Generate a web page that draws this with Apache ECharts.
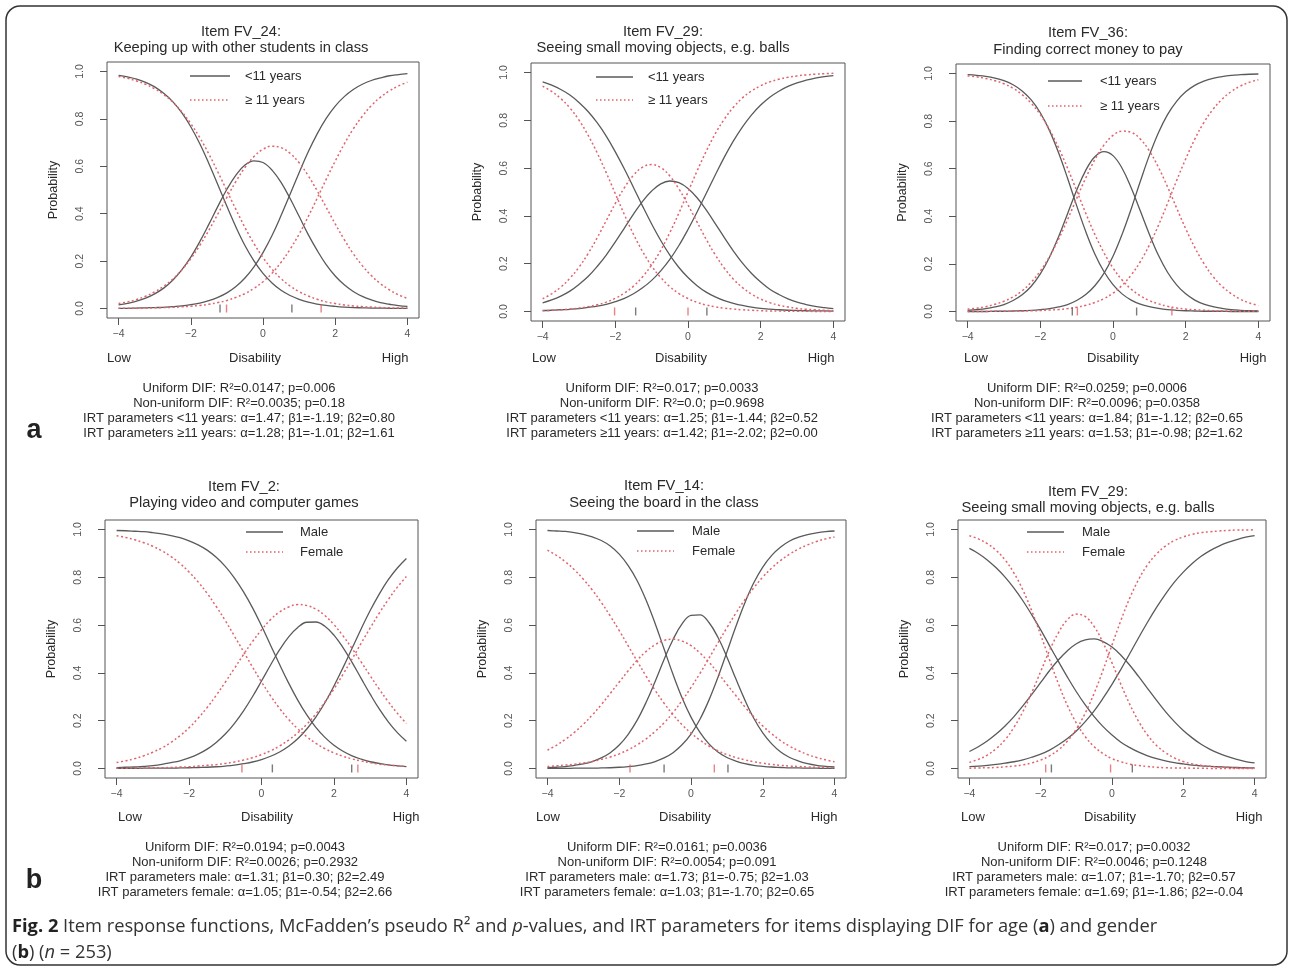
<!DOCTYPE html>
<html><head><meta charset="utf-8">
<script src="https://cdn.jsdelivr.net/npm/echarts@6/dist/echarts.min.js"></script>
<style>html,body{margin:0;padding:0;background:#fff}#c{width:1290px;height:971px}</style>
</head><body><div id="c"></div>
<script>
// ---------------- DATA ----------------
const theta = [-4,-3.75,-3.5,-3.25,-3,-2.75,-2.5,-2.25,-2,-1.75,-1.5,-1.25,-1,-0.75,-0.5,-0.25,0,0.25,0.5,0.75,1,1.25,1.5,1.75,2,2.25,2.5,2.75,3,3.25,3.5,3.75,4];
const xTicks = [-4,-2,0,2,4];
const yTicks = [0,0.2,0.4,0.6,0.8,1.0];

// (a) FV_24
const fv24Young_p0 = [0.984,0.977,0.968,0.954,0.935,0.908,0.873,0.826,0.767,0.695,0.612,0.522,0.431,0.344,0.266,0.201,0.148,0.108,0.077,0.055,0.039,0.027,0.019,0.013,0.009,0.006,0.004,0.003,0.002,0.002,0.001,0.001,0.001];
const fv24Young_p1 = [0.015,0.022,0.031,0.044,0.062,0.086,0.119,0.163,0.217,0.282,0.355,0.431,0.503,0.563,0.605,0.623,0.616,0.584,0.532,0.464,0.389,0.313,0.245,0.185,0.137,0.100,0.072,0.051,0.036,0.025,0.018,0.012,0.009];
const fv24Young_p2 = [0.001,0.001,0.002,0.003,0.004,0.005,0.008,0.011,0.016,0.023,0.033,0.047,0.066,0.093,0.129,0.176,0.236,0.308,0.392,0.482,0.573,0.660,0.737,0.802,0.854,0.894,0.924,0.946,0.962,0.973,0.982,0.987,0.991];
const fv24Old_p0 = [0.979,0.971,0.960,0.946,0.927,0.903,0.871,0.830,0.780,0.721,0.652,0.576,0.497,0.418,0.342,0.274,0.215,0.166,0.126,0.095,0.071,0.053,0.039,0.028,0.021,0.015,0.011,0.008,0.006,0.004,0.003,0.002,0.002];
const fv24Old_p1 = [0.021,0.028,0.038,0.052,0.070,0.094,0.124,0.163,0.210,0.266,0.330,0.399,0.469,0.536,0.595,0.641,0.672,0.685,0.679,0.655,0.615,0.561,0.497,0.427,0.357,0.291,0.231,0.181,0.139,0.105,0.079,0.058,0.043];
const fv24Old_p2 = [0.001,0.001,0.001,0.002,0.003,0.004,0.005,0.007,0.010,0.013,0.018,0.025,0.034,0.047,0.063,0.085,0.113,0.149,0.195,0.250,0.314,0.387,0.465,0.545,0.622,0.694,0.758,0.811,0.856,0.891,0.918,0.939,0.955];
const fv24Young_beta = [-1.19,0.80];
const fv24Old_beta = [-1.01,1.61];

// (a) FV_29
const fv29Young_p0 = [0.961,0.947,0.929,0.906,0.875,0.837,0.790,0.734,0.668,0.596,0.519,0.441,0.366,0.297,0.236,0.184,0.142,0.108,0.081,0.061,0.045,0.034,0.025,0.018,0.013,0.010,0.007,0.005,0.004,0.003,0.002,0.002,0.001];
const fv29Young_p1 = [0.036,0.048,0.064,0.085,0.113,0.146,0.188,0.236,0.291,0.349,0.407,0.461,0.504,0.534,0.546,0.539,0.515,0.476,0.425,0.368,0.309,0.253,0.202,0.159,0.123,0.093,0.071,0.053,0.039,0.029,0.021,0.016,0.012];
const fv29Young_p2 = [0.004,0.005,0.007,0.009,0.012,0.017,0.022,0.030,0.041,0.055,0.074,0.099,0.130,0.170,0.218,0.276,0.343,0.416,0.494,0.571,0.646,0.714,0.773,0.823,0.864,0.897,0.922,0.942,0.957,0.968,0.977,0.983,0.987];
const fv29Old_p0 = [0.943,0.921,0.891,0.852,0.801,0.738,0.664,0.581,0.493,0.405,0.323,0.251,0.190,0.142,0.104,0.075,0.054,0.038,0.027,0.019,0.014,0.010,0.007,0.005,0.003,0.002,0.002,0.001,0.001,0.001,0.000,0.000,0.000];
const fv29Old_p1 = [0.053,0.074,0.102,0.139,0.185,0.242,0.308,0.380,0.452,0.518,0.570,0.604,0.615,0.602,0.567,0.513,0.446,0.374,0.302,0.237,0.181,0.135,0.100,0.072,0.052,0.037,0.026,0.019,0.013,0.009,0.007,0.005,0.003];
const fv29Old_p2 = [0.003,0.005,0.007,0.010,0.014,0.020,0.028,0.039,0.055,0.077,0.106,0.145,0.195,0.256,0.330,0.412,0.500,0.588,0.670,0.744,0.805,0.855,0.894,0.923,0.945,0.961,0.972,0.980,0.986,0.990,0.993,0.995,0.997];
const fv29Young_beta = [-1.44,0.52];
const fv29Old_beta = [-2.02,0.00];

// (a) FV_36
const fv36Young_p0 = [0.995,0.992,0.988,0.981,0.970,0.953,0.927,0.889,0.835,0.761,0.668,0.560,0.445,0.336,0.242,0.168,0.113,0.074,0.048,0.031,0.020,0.013,0.008,0.005,0.003,0.002,0.001,0.001,0.001,0.000,0.000,0.000,0.000];
const fv36Young_p1 = [0.005,0.008,0.012,0.019,0.029,0.046,0.070,0.106,0.158,0.227,0.313,0.411,0.509,0.593,0.650,0.672,0.655,0.602,0.520,0.423,0.325,0.236,0.165,0.112,0.074,0.048,0.031,0.020,0.013,0.008,0.005,0.003,0.002];
const fv36Young_p2 = [0.000,0.000,0.000,0.001,0.001,0.002,0.003,0.005,0.008,0.012,0.019,0.029,0.046,0.071,0.108,0.160,0.232,0.324,0.431,0.546,0.656,0.751,0.827,0.883,0.923,0.950,0.968,0.980,0.987,0.992,0.995,0.997,0.998];
const fv36Old_p0 = [0.990,0.986,0.979,0.970,0.957,0.938,0.911,0.875,0.827,0.765,0.689,0.602,0.508,0.413,0.324,0.247,0.183,0.132,0.094,0.066,0.046,0.032,0.022,0.015,0.010,0.007,0.005,0.003,0.002,0.002,0.001,0.001,0.001];
const fv36Old_p1 = [0.010,0.014,0.020,0.030,0.043,0.061,0.087,0.123,0.170,0.230,0.303,0.386,0.475,0.561,0.638,0.699,0.740,0.758,0.753,0.725,0.675,0.606,0.524,0.435,0.348,0.269,0.202,0.147,0.106,0.075,0.052,0.036,0.025];
const fv36Old_p2 = [0.000,0.000,0.000,0.001,0.001,0.001,0.002,0.003,0.004,0.006,0.008,0.012,0.018,0.026,0.038,0.054,0.077,0.110,0.153,0.209,0.279,0.362,0.454,0.550,0.641,0.724,0.794,0.849,0.892,0.924,0.947,0.963,0.974];
const fv36Young_beta = [-1.12,0.65];
const fv36Old_beta = [-0.98,1.62];

// (b) FV_2
const fv2Male_p0 = [0.996,0.995,0.993,0.991,0.987,0.982,0.975,0.966,0.953,0.936,0.914,0.884,0.846,0.798,0.740,0.673,0.597,0.516,0.435,0.357,0.286,0.224,0.172,0.130,0.097,0.072,0.053,0.039,0.028,0.021,0.015,0.011,0.008];
const fv2Male_p1 = [0.003,0.005,0.006,0.009,0.012,0.017,0.024,0.032,0.044,0.060,0.081,0.109,0.144,0.188,0.240,0.300,0.366,0.433,0.497,0.551,0.590,0.612,0.613,0.595,0.558,0.506,0.444,0.377,0.311,0.249,0.195,0.150,0.114];
const fv2Male_p2 = [0.000,0.000,0.000,0.001,0.001,0.001,0.001,0.002,0.003,0.004,0.005,0.007,0.010,0.014,0.020,0.027,0.037,0.051,0.069,0.093,0.124,0.165,0.215,0.275,0.345,0.422,0.503,0.584,0.661,0.730,0.790,0.839,0.879];
const fv2Female_p0 = [0.974,0.967,0.957,0.945,0.930,0.911,0.887,0.858,0.822,0.781,0.733,0.678,0.619,0.555,0.490,0.425,0.362,0.304,0.251,0.205,0.166,0.133,0.105,0.083,0.065,0.051,0.040,0.031,0.024,0.018,0.014,0.011,0.008];
const fv2Female_p1 = [0.025,0.032,0.041,0.053,0.068,0.086,0.109,0.137,0.170,0.210,0.255,0.306,0.361,0.418,0.476,0.531,0.580,0.623,0.655,0.676,0.686,0.682,0.667,0.640,0.602,0.555,0.502,0.446,0.388,0.332,0.279,0.231,0.188];
const fv2Female_p2 = [0.001,0.001,0.002,0.002,0.003,0.003,0.004,0.006,0.007,0.010,0.013,0.016,0.021,0.027,0.035,0.045,0.058,0.074,0.094,0.119,0.149,0.185,0.228,0.278,0.333,0.394,0.458,0.524,0.588,0.650,0.707,0.759,0.803];
const fv2Male_beta = [0.30,2.49];
const fv2Female_beta = [-0.54,2.66];

// (b) FV_14
const fv14Male_p0 = [0.996,0.994,0.992,0.987,0.980,0.969,0.954,0.931,0.897,0.849,0.786,0.704,0.607,0.500,0.393,0.296,0.215,0.151,0.103,0.069,0.046,0.031,0.020,0.013,0.009,0.006,0.004,0.002,0.002,0.001,0.001,0.000,0.000];
const fv14Male_p1 = [0.003,0.005,0.008,0.013,0.019,0.029,0.044,0.066,0.098,0.143,0.202,0.277,0.364,0.456,0.540,0.605,0.641,0.643,0.611,0.549,0.467,0.375,0.287,0.210,0.149,0.103,0.069,0.046,0.031,0.020,0.013,0.009,0.006];
const fv14Male_p2 = [0.000,0.000,0.000,0.001,0.001,0.001,0.002,0.003,0.005,0.008,0.012,0.019,0.029,0.044,0.066,0.099,0.144,0.206,0.286,0.381,0.487,0.594,0.693,0.777,0.843,0.892,0.927,0.952,0.968,0.979,0.986,0.991,0.994];
const fv14Female_p0 = [0.914,0.892,0.865,0.832,0.792,0.747,0.695,0.638,0.577,0.513,0.449,0.386,0.327,0.273,0.225,0.183,0.148,0.118,0.094,0.074,0.058,0.046,0.036,0.028,0.022,0.017,0.013,0.010,0.008,0.006,0.005,0.004,0.003];
const fv14Female_p1 = [0.077,0.097,0.122,0.151,0.185,0.224,0.267,0.314,0.362,0.409,0.453,0.490,0.518,0.536,0.541,0.533,0.514,0.483,0.445,0.400,0.352,0.305,0.258,0.216,0.178,0.145,0.116,0.093,0.074,0.058,0.046,0.036,0.028];
const fv14Female_p2 = [0.008,0.011,0.014,0.018,0.023,0.029,0.038,0.048,0.061,0.078,0.099,0.124,0.155,0.191,0.234,0.284,0.339,0.398,0.461,0.526,0.589,0.650,0.706,0.756,0.801,0.839,0.871,0.897,0.919,0.936,0.950,0.961,0.969];
const fv14Male_beta = [-0.75,1.03];
const fv14Female_beta = [-1.70,0.65];

// (b) FV_29
const fv29Male_p0 = [0.921,0.900,0.873,0.840,0.801,0.755,0.702,0.643,0.580,0.513,0.447,0.382,0.321,0.266,0.217,0.175,0.140,0.110,0.087,0.068,0.053,0.041,0.032,0.024,0.019,0.014,0.011,0.009,0.007,0.005,0.004,0.003,0.002];
const fv29Male_p1 = [0.071,0.091,0.115,0.144,0.178,0.217,0.262,0.310,0.360,0.410,0.455,0.493,0.522,0.538,0.542,0.531,0.508,0.474,0.432,0.384,0.334,0.285,0.238,0.196,0.159,0.128,0.101,0.080,0.063,0.049,0.038,0.029,0.023];
const fv29Male_p2 = [0.008,0.010,0.013,0.017,0.022,0.028,0.036,0.047,0.060,0.077,0.099,0.125,0.157,0.196,0.241,0.294,0.352,0.415,0.481,0.548,0.613,0.674,0.730,0.780,0.822,0.858,0.888,0.912,0.931,0.946,0.958,0.968,0.975];
const fv29Female_p0 = [0.974,0.961,0.941,0.913,0.873,0.818,0.747,0.659,0.559,0.454,0.353,0.263,0.190,0.133,0.091,0.062,0.041,0.028,0.018,0.012,0.008,0.005,0.003,0.002,0.002,0.001,0.001,0.000,0.000,0.000,0.000,0.000,0.000];
const fv29Female_p1 = [0.025,0.038,0.056,0.083,0.120,0.172,0.238,0.318,0.406,0.494,0.569,0.623,0.646,0.636,0.594,0.526,0.442,0.352,0.268,0.196,0.139,0.096,0.066,0.044,0.029,0.019,0.013,0.009,0.006,0.004,0.002,0.002,0.001];
const fv29Female_p2 = [0.001,0.002,0.003,0.004,0.007,0.010,0.015,0.023,0.035,0.053,0.078,0.115,0.165,0.232,0.315,0.412,0.517,0.620,0.714,0.792,0.853,0.898,0.931,0.954,0.969,0.980,0.987,0.991,0.994,0.996,0.998,0.998,0.999];
const fv29Male_beta = [-1.70,0.57];
const fv29Female_beta = [-1.86,-0.04];

// Texts
const titles = [
  ['Item FV_24:','Keeping up with other students in class'],
  ['Item FV_29:','Seeing small moving objects, e.g. balls'],
  ['Item FV_36:','Finding correct money to pay'],
  ['Item FV_2:','Playing video and computer games'],
  ['Item FV_14:','Seeing the board in the class'],
  ['Item FV_29:','Seeing small moving objects, e.g. balls']
];
const ageLegend = ['<11 years','\u2265 11 years'];
const genderLegend = ['Male','Female'];
const stats = [
  ['Uniform DIF: R\u00b2=0.0147; p=0.006','Non-uniform DIF: R\u00b2=0.0035; p=0.18','IRT parameters <11 years: \u03b1=1.47; \u03b21=-1.19; \u03b22=0.80','IRT parameters \u226511 years: \u03b1=1.28; \u03b21=-1.01; \u03b22=1.61'],
  ['Uniform DIF: R\u00b2=0.017; p=0.0033','Non-uniform DIF: R\u00b2=0.0; p=0.9698','IRT parameters <11 years: \u03b1=1.25; \u03b21=-1.44; \u03b22=0.52','IRT parameters \u226511 years: \u03b1=1.42; \u03b21=-2.02; \u03b22=0.00'],
  ['Uniform DIF: R\u00b2=0.0259; p=0.0006','Non-uniform DIF: R\u00b2=0.0096; p=0.0358','IRT parameters <11 years: \u03b1=1.84; \u03b21=-1.12; \u03b22=0.65','IRT parameters \u226511 years: \u03b1=1.53; \u03b21=-0.98; \u03b22=1.62'],
  ['Uniform DIF: R\u00b2=0.0194; p=0.0043','Non-uniform DIF: R\u00b2=0.0026; p=0.2932','IRT parameters male: \u03b1=1.31; \u03b21=0.30; \u03b22=2.49','IRT parameters female: \u03b1=1.05; \u03b21=-0.54; \u03b22=2.66'],
  ['Uniform DIF: R\u00b2=0.0161; p=0.0036','Non-uniform DIF: R\u00b2=0.0054; p=0.091','IRT parameters male: \u03b1=1.73; \u03b21=-0.75; \u03b22=1.03','IRT parameters female: \u03b1=1.03; \u03b21=-1.70; \u03b22=0.65'],
  ['Uniform DIF: R\u00b2=0.017; p=0.0032','Non-uniform DIF: R\u00b2=0.0046; p=0.1248','IRT parameters male: \u03b1=1.07; \u03b21=-1.70; \u03b22=0.57','IRT parameters female: \u03b1=1.69; \u03b21=-1.86; \u03b22=-0.04']
];
const axisWords = ['Low','Disability','High'];
const yName = 'Probability';
const panelLetters = ['a','b'];

// ---------------- STRUCTURE ----------------
const panels = [
  {g1:[fv24Young_p0,fv24Young_p1,fv24Young_p2], g2:[fv24Old_p0,fv24Old_p1,fv24Old_p2], b1:fv24Young_beta, b2:fv24Old_beta, legend:ageLegend},
  {g1:[fv29Young_p0,fv29Young_p1,fv29Young_p2], g2:[fv29Old_p0,fv29Old_p1,fv29Old_p2], b1:fv29Young_beta, b2:fv29Old_beta, legend:ageLegend},
  {g1:[fv36Young_p0,fv36Young_p1,fv36Young_p2], g2:[fv36Old_p0,fv36Old_p1,fv36Old_p2], b1:fv36Young_beta, b2:fv36Old_beta, legend:ageLegend},
  {g1:[fv2Male_p0,fv2Male_p1,fv2Male_p2], g2:[fv2Female_p0,fv2Female_p1,fv2Female_p2], b1:fv2Male_beta, b2:fv2Female_beta, legend:genderLegend},
  {g1:[fv14Male_p0,fv14Male_p1,fv14Male_p2], g2:[fv14Female_p0,fv14Female_p1,fv14Female_p2], b1:fv14Male_beta, b2:fv14Female_beta, legend:genderLegend},
  {g1:[fv29Male_p0,fv29Male_p1,fv29Male_p2], g2:[fv29Female_p0,fv29Female_p1,fv29Female_p2], b1:fv29Male_beta, b2:fv29Female_beta, legend:genderLegend}
];

// ---------------- LAYOUT ----------------
const L = [
  {grid:{left:107,top:62,width:312,height:256}, tx:241, ty:[32,48], sx:239, sy:388, lg:{x1:190,x2:230,tx:245,y1:76,y2:100}, words:[119,255,395], wy:358},
  {grid:{left:531,top:63,width:314,height:258}, tx:663, ty:[32,48], sx:662, sy:388, lg:{x1:596,x2:633,tx:648,y1:77,y2:100}, words:[544,681,821], wy:358},
  {grid:{left:956,top:64,width:314,height:257}, tx:1088, ty:[33,50], sx:1087, sy:388, lg:{x1:1048,x2:1082,tx:1100,y1:81,y2:106}, words:[976,1113,1253], wy:358},
  {grid:{left:105,top:520,width:313,height:258}, tx:244, ty:[487,503], sx:245, sy:847, lg:{x1:246,x2:283,tx:300,y1:532,y2:552}, words:[130,267,406], wy:817},
  {grid:{left:536,top:520,width:310,height:258}, tx:664, ty:[486,503], sx:667, sy:847, lg:{x1:637,x2:674,tx:692,y1:531,y2:551}, words:[548,685,824], wy:817},
  {grid:{left:958,top:520,width:308,height:258}, tx:1088, ty:[492,508], sx:1094, sy:847, lg:{x1:1027,x2:1064,tx:1082,y1:532,y2:552}, words:[973,1110,1249], wy:817}
];

const GRAY = '#5a5a5a';
const RED = '#e0646c';
const RFONT = '"Liberation Sans", Arial, sans-serif';
const TXT = '#2a2a2a';

const grids=[], xAxes=[], yAxes=[], series=[], graphics=[];

L.forEach((l,i)=>{
  grids.push(Object.assign({show:true, borderColor:'#555', borderWidth:1, containLabel:false}, l.grid));
  xAxes.push({type:'value', gridIndex:i, min:-4.32, max:4.32, position:'bottom',
    axisLine:{show:false, onZero:false}, splitLine:{show:false},
    axisTick:{show:true, length:7, customValues:xTicks, lineStyle:{color:'#555'}},
    axisLabel:{customValues:xTicks, margin:11, fontSize:10.5, color:'#555', fontFamily:RFONT,
      formatter:v=> v<0 ? '\u2212'+(-v) : String(v)}});
  yAxes.push({type:'value', gridIndex:i, min:-0.04, max:1.04, position:'left',
    name:yName, nameLocation:'middle', nameGap:47,
    nameTextStyle:{fontSize:12.5, color:TXT, fontFamily:RFONT},
    axisLine:{show:false, onZero:false}, splitLine:{show:false},
    axisTick:{show:true, length:7, customValues:yTicks, lineStyle:{color:'#555'}},
    axisLabel:{customValues:yTicks, rotate:90, margin:21, fontSize:10.5, color:'#555', fontFamily:RFONT,
      formatter:v=>v.toFixed(1)}});
  const p = panels[i];
  p.g1.forEach(arr=>{
    series.push({type:'line', xAxisIndex:i, yAxisIndex:i, smooth:0.4, showSymbol:false, silent:true,
      data: theta.map((t,j)=>[t,arr[j]]), lineStyle:{color:GRAY, width:1.3}, z:2});
  });
  p.g2.forEach(arr=>{
    series.push({type:'line', xAxisIndex:i, yAxisIndex:i, smooth:0.4, showSymbol:false, silent:true,
      data: theta.map((t,j)=>[t,arr[j]]), lineStyle:{color:RED, width:1.5, type:[2,2.5]}, z:3});
  });
  series.push({type:'scatter', xAxisIndex:i, yAxisIndex:i, silent:true, symbol:'rect', symbolSize:[1.4,8],
    data:p.b1.map(b=>[b,0]), itemStyle:{color:GRAY}, z:4});
  series.push({type:'scatter', xAxisIndex:i, yAxisIndex:i, silent:true, symbol:'rect', symbolSize:[1.4,8],
    data:p.b2.map(b=>[b,0]), itemStyle:{color:RED}, z:4});

  titles[i].forEach((t,k)=>graphics.push({type:'text', silent:true, style:{text:t, x:l.tx, y:l.ty[k],
    font:'14.7px '+RFONT, fill:TXT, textAlign:'center', textVerticalAlign:'middle'}}));
  graphics.push({type:'line', silent:true, shape:{x1:l.lg.x1,y1:l.lg.y1,x2:l.lg.x2,y2:l.lg.y1}, style:{stroke:GRAY, lineWidth:1.3}});
  graphics.push({type:'line', silent:true, shape:{x1:l.lg.x1,y1:l.lg.y2,x2:l.lg.x2,y2:l.lg.y2}, style:{stroke:RED, lineWidth:1.3, lineDash:[1.5,2.5]}});
  p.legend.forEach((t,k)=>graphics.push({type:'text', silent:true, style:{text:t, x:l.lg.tx, y:k? l.lg.y2 : l.lg.y1,
    font:'13px '+RFONT, fill:TXT, textAlign:'left', textVerticalAlign:'middle'}}));
  axisWords.forEach((w,k)=>graphics.push({type:'text', silent:true, style:{text:w, x:l.words[k], y:l.wy,
    font:'13px '+RFONT, fill:TXT, textAlign:'center', textVerticalAlign:'middle'}}));
  stats[i].forEach((s,k)=>graphics.push({type:'text', silent:true, style:{text:s, x:l.sx, y:l.sy+k*15.3,
    font:'13px '+RFONT, fill:TXT, textAlign:'center', textVerticalAlign:'middle'}}));
});

graphics.push({type:'text', silent:true, style:{text:panelLetters[0], x:34, y:431, font:'bold 27px '+RFONT, fill:'#222', textAlign:'center', textVerticalAlign:'middle'}});
graphics.push({type:'text', silent:true, style:{text:panelLetters[1], x:34, y:881, font:'bold 27px '+RFONT, fill:'#222', textAlign:'center', textVerticalAlign:'middle'}});

const CFONT = '"Open Sans", "Noto Sans", sans-serif';
const CS = 18.3;
const capRich = {b:{fontWeight:'bold', fontSize:CS, fontFamily:CFONT, fill:'#222'}, i:{fontStyle:'italic', fontSize:CS, fontFamily:CFONT, fill:'#333'}};
graphics.push({type:'text', silent:true, style:{
  text:'{b|Fig. 2} Item response functions, McFadden\u2019s pseudo R\u00b2 and {i|p}-values, and IRT parameters for items displaying DIF for age ({b|a}) and gender',
  x:12, y:927, font:CS+'px '+CFONT, fill:'#333', textAlign:'left', textVerticalAlign:'middle', rich:capRich}});
graphics.push({type:'text', silent:true, style:{
  text:'({b|b}) ({i|n} = 253)',
  x:12, y:953, font:CS+'px '+CFONT, fill:'#333', textAlign:'left', textVerticalAlign:'middle', rich:capRich}});

graphics.push({type:'rect', silent:true, z:-1, shape:{x:6,y:6,width:1281,height:959,r:14}, style:{fill:'none', stroke:'#333', lineWidth:1.5}});

const chart = echarts.init(document.getElementById('c'), null, {renderer:'canvas'});
chart.setOption({
  backgroundColor:'#fff', animation:false,
  grid:grids, xAxis:xAxes, yAxis:yAxes, series:series, graphic:graphics
});
</script>
</body></html>
